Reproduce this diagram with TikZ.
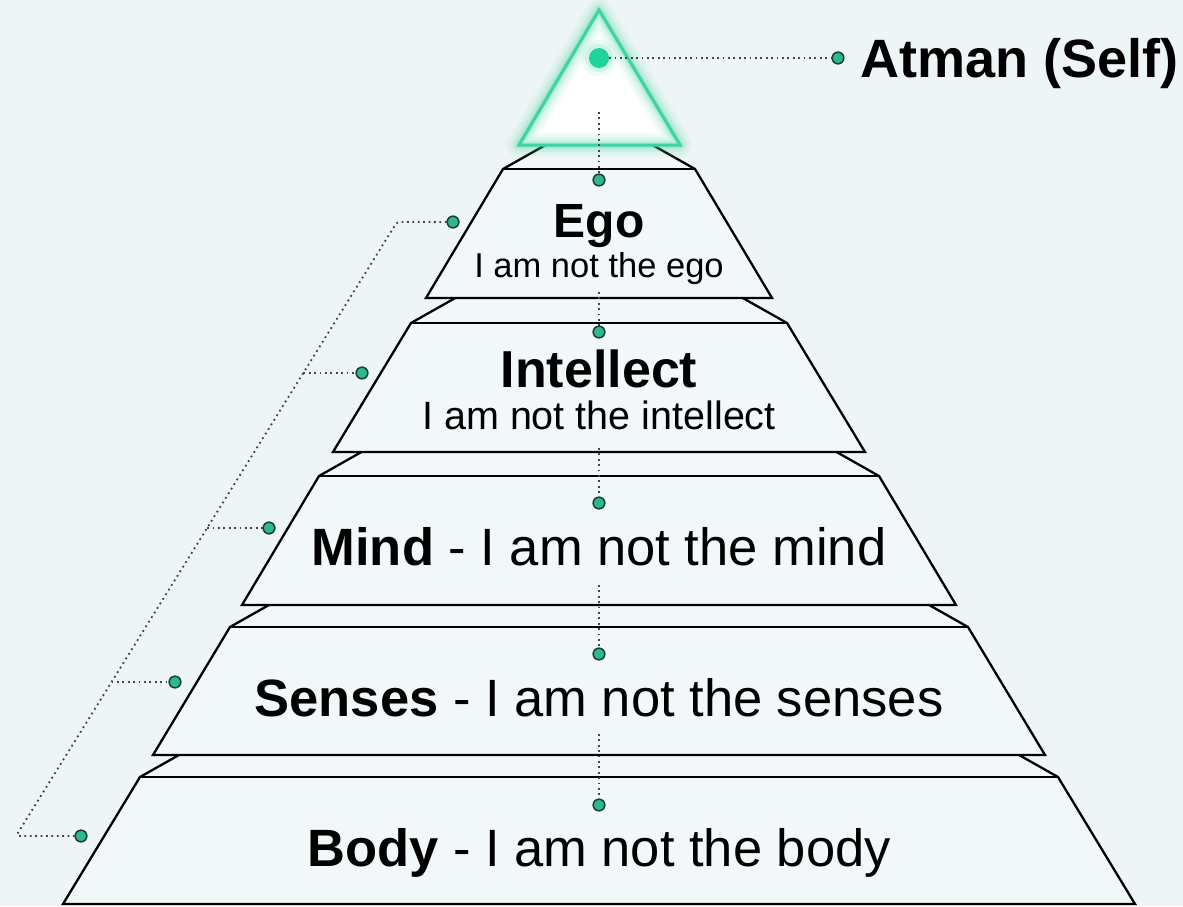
\documentclass[tikz,border=0pt]{standalone}
\usepackage{fontspec}
\setmainfont{Liberation Sans}
\usetikzlibrary{calc}
\definecolor{bg}{HTML}{EEF5F6}
\definecolor{slab}{HTML}{F2F8F9}
\definecolor{glowg}{HTML}{3ED3A0}
\definecolor{atmang}{HTML}{1FD39C}
\definecolor{dotg}{HTML}{2DB98B}
\definecolor{dotedge}{HTML}{1A3F33}
\definecolor{dline}{HTML}{3E4647}
\newcommand{\pyrslab}[4]{%
  \filldraw[slabshape] ({599-#4},#3) -- ({599-#2},#1) -- ({599-#2+46},{#1-26}) -- ({599+#2-46},{#1-26}) -- ({599+#2},#1) -- ({599+#4},#3) -- cycle;
  \draw[slabedge] ({599-#2},#1) -- ({599+#2},#1);}
\begin{document}
\begin{tikzpicture}[x=1pt,y=-1pt,
  slabshape/.style={fill=slab,draw=black,line width=2.3pt,line join=miter},
  slabedge/.style={draw=black,line width=2.3pt},
  dotline/.style={draw=dline,line width=1.8pt,dash pattern=on 1.8pt off 3.6pt},
  gdot/.style={circle,fill=dotg,draw=dotedge,line width=1.4pt,minimum size=11.5pt,inner sep=0pt},
  lbl/.style={anchor=base,inner sep=0pt,text=black},
]
\fill[bg] (0,0) rectangle (1183,906);
\useasboundingbox (0,0) rectangle (1183,906);

% slabs, bottom to top
\pyrslab{777}{459}{904}{536}
\pyrslab{627}{369}{755}{446}
\pyrslab{476}{280}{605}{357}
\pyrslab{323}{188}{452}{266}
\pyrslab{169}{96}{298}{173}

% top triangle with glow
\coordinate (tA) at (599,10);
\coordinate (tL) at (519,145);
\coordinate (tR) at (680,145);
\fill[white] (tA) -- (tL) -- (tR) -- cycle;
\foreach \w/\o in {26/0.05,20/0.07,14/0.1,9/0.14,5/0.2}
  \draw[glowg,line width=\w pt,opacity=\o,line join=round] (tA) -- (tL) -- (tR) -- cycle;
\draw[glowg,line width=3pt,line join=miter] (tA) -- (tL) -- (tR) -- cycle;

% coordinates
\coordinate (cTop) at (599,112);
\coordinate (s1) at (599,292);
\coordinate (s2) at (599,448);
\coordinate (s3) at (599,585);
\coordinate (s4) at (599,734);
\coordinate (bTop) at (397,222);
\coordinate (bBot) at (16,836);
\coordinate (bInt) at (303.3,373);
\coordinate (bMind) at (207.1,528);
\coordinate (bSen) at (111.6,682);

% dots positions
\node[gdot] (dEgo) at (599,180) {};
\node[gdot] (dInt) at (599,332) {};
\node[gdot] (dMind) at (599,503) {};
\node[gdot] (dSen) at (599,654) {};
\node[gdot] (dBody) at (599,805) {};
\node[gdot] (dEgoL) at (453,222) {};
\node[gdot] (dIntL) at (362,373) {};
\node[gdot] (dMindL) at (269,528) {};
\node[gdot] (dSenL) at (175,682) {};
\node[gdot] (dBodyL) at (81,836) {};
\node[gdot] (dAtmanR) at (838,58) {};

% atman glow dot
\fill[atmang,opacity=0.08] (599,58) circle (18pt);
\fill[atmang,opacity=0.15] (599,58) circle (14pt);
\node[circle,fill=atmang,minimum size=20pt,inner sep=0pt] (dAtman) at (599,58) {};

% dotted connectors
\draw[dotline] (dAtman) -- (dAtmanR);
\draw[dotline] (cTop) -- (dEgo);
\draw[dotline] (s1) -- (dInt);
\draw[dotline] (s2) -- (dMind);
\draw[dotline] (s3) -- (dSen);
\draw[dotline] (s4) -- (dBody);
\draw[dotline,rounded corners=3pt] (dEgoL) -- (bTop) -- (bBot) -- (dBodyL);
\draw[dotline] (bInt) -- (dIntL);
\draw[dotline] (bMind) -- (dMindL);
\draw[dotline] (bSen) -- (dSenL);

% redraw dots on top of lines
\foreach \n in {dEgo,dInt,dMind,dSen,dBody,dEgoL,dIntL,dMindL,dSenL,dBodyL,dAtmanR}
  \node[gdot] at (\n) {};

% labels
\node[lbl,anchor=base west,font=\fontsize{54}{60}\selectfont\bfseries] (atman) at (860,77) {Atman (Self)};
\node[lbl,font=\fontsize{48}{56}\selectfont\bfseries] (ego) at (599,237) {Ego};
\node[lbl,font=\fontsize{34.5}{40}\selectfont] (egoSub) at (599,277) {I am not the ego};
\node[lbl,font=\fontsize{52}{60}\selectfont\bfseries] (intel) at (599,387) {Intellect};
\node[lbl,font=\fontsize{39.5}{46}\selectfont] (intelSub) at (599,429) {I am not the intellect};
\node[lbl,font=\fontsize{52.5}{60}\selectfont] (mind) at (599,565) {\textbf{Mind} - I am not the mind};
\node[lbl,font=\fontsize{52.5}{60}\selectfont] (senses) at (599,716) {\textbf{Senses} - I am not the senses};
\node[lbl,font=\fontsize{52.5}{60}\selectfont] (body) at (599,866) {\textbf{Body} - I am not the body};
\end{tikzpicture}
\end{document}
